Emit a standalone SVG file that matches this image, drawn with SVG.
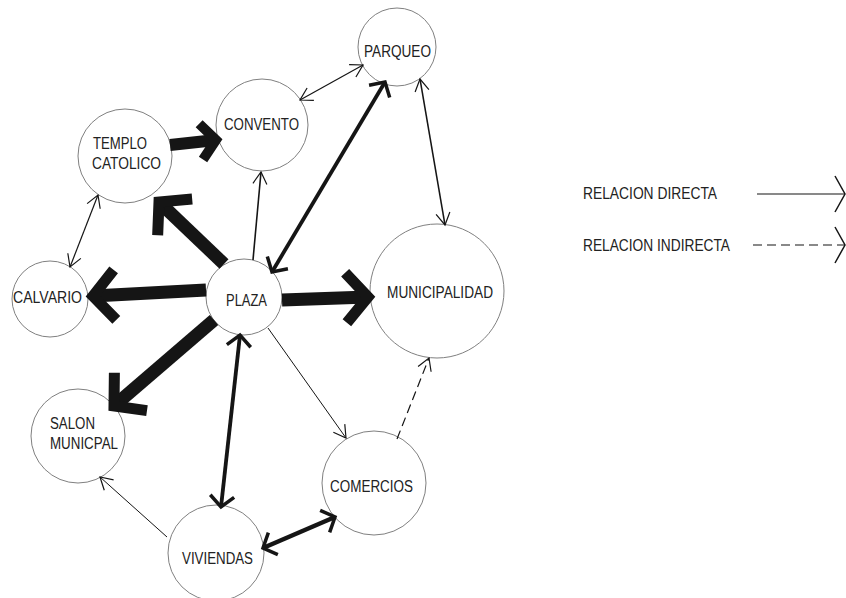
<svg xmlns="http://www.w3.org/2000/svg" width="846" height="598" viewBox="0 0 846 598">
<style>
.node{fill:#fff;stroke:#808080;stroke-width:1}
.lbl{font-family:"Liberation Sans",Arial,sans-serif;font-size:16px;fill:#222}
.c{fill:none;stroke:#151515;stroke-linecap:butt}
.thin{stroke-width:1.2}
.med{stroke-width:3.8}
.thick{stroke-width:13}
.dash{stroke-dasharray:9 5}
.ah{fill:none;stroke:#151515;stroke-linejoin:miter;stroke-linecap:butt}
</style>
<defs>
<marker id="mThin" markerUnits="userSpaceOnUse" orient="auto-start-reverse" overflow="visible" markerWidth="1" markerHeight="1" refX="0" refY="0">
<path class="ah" stroke-width="1.2" d="M-12,-7 L0,0 L-12,7"/>
</marker>
<marker id="mMed" markerUnits="userSpaceOnUse" orient="auto-start-reverse" overflow="visible" markerWidth="1" markerHeight="1" refX="0" refY="0">
<path class="ah" stroke-width="3.5" d="M-11,-12 L0,0 L-11,12"/>
</marker>
<marker id="mThick" markerUnits="userSpaceOnUse" orient="auto-start-reverse" overflow="visible" markerWidth="1" markerHeight="1" refX="0" refY="0">
<path class="ah" stroke-width="11" d="M-22,-25 L0,0 L-22,25"/>
</marker>
<marker id="mThickS" markerUnits="userSpaceOnUse" orient="auto-start-reverse" overflow="visible" markerWidth="1" markerHeight="1" refX="0" refY="0">
<path class="ah" stroke-width="10" d="M-15,-18 L0,0 L-15,18"/>
</marker>
<marker id="mLeg" markerUnits="userSpaceOnUse" orient="auto" overflow="visible" markerWidth="1" markerHeight="1" refX="0" refY="0">
<path class="ah" stroke-width="1.5" d="M-10,-18 L0,0 L-10,18"/>
</marker>
</defs>

<g id="nodes">
<g id="parqueo"><circle class="node" cx="397" cy="47" r="39"/><text class="lbl" x="364" y="57" textLength="67" lengthAdjust="spacingAndGlyphs">PARQUEO</text></g>
<g id="convento"><circle class="node" cx="262" cy="125" r="46"/><text class="lbl" x="224" y="130" textLength="75" lengthAdjust="spacingAndGlyphs">CONVENTO</text></g>
<g id="templo"><circle class="node" cx="125" cy="156" r="47"/><text class="lbl" x="93" y="149" textLength="54" lengthAdjust="spacingAndGlyphs">TEMPLO</text><text class="lbl" x="92" y="169" textLength="69" lengthAdjust="spacingAndGlyphs">CATOLICO</text></g>
<g id="calvario"><circle class="node" cx="50" cy="299" r="38"/><text class="lbl" x="13" y="303" textLength="69" lengthAdjust="spacingAndGlyphs">CALVARIO</text></g>
<g id="plaza"><circle class="node" cx="244" cy="297" r="38"/><text class="lbl" x="226" y="306" textLength="41" lengthAdjust="spacingAndGlyphs">PLAZA</text></g>
<g id="municipalidad"><circle class="node" cx="437" cy="291" r="67"/><text class="lbl" x="387" y="298" textLength="106" lengthAdjust="spacingAndGlyphs">MUNICIPALIDAD</text></g>
<g id="salon"><circle class="node" cx="78" cy="436" r="47"/><text class="lbl" x="50" y="429" textLength="45" lengthAdjust="spacingAndGlyphs">SALON</text><text class="lbl" x="50" y="449" textLength="68" lengthAdjust="spacingAndGlyphs">MUNICPAL</text></g>
<g id="comercios"><circle class="node" cx="374" cy="483" r="52"/><text class="lbl" x="330" y="492" textLength="83" lengthAdjust="spacingAndGlyphs">COMERCIOS</text></g>
<g id="viviendas"><circle class="node" cx="216" cy="553" r="48"/><text class="lbl" x="182" y="564" textLength="71" lengthAdjust="spacingAndGlyphs">VIVIENDAS</text></g>
</g>

<g id="connectors">
<line class="c" stroke-width="12" x1="170" y1="145" x2="216" y2="140" marker-end="url(#mThickS)"/>
<line class="c thick" x1="224" y1="264" x2="159" y2="202" marker-end="url(#mThick)"/>
<line class="c thick" x1="206" y1="290" x2="93" y2="296" marker-end="url(#mThick)"/>
<line class="c thick" x1="282" y1="300" x2="368" y2="297" marker-end="url(#mThick)"/>
<line class="c thick" x1="214" y1="320" x2="114" y2="406" marker-end="url(#mThick)"/>
<line class="c med" x1="272" y1="272" x2="385" y2="82" marker-start="url(#mMed)" marker-end="url(#mMed)"/>
<line class="c" stroke-width="1.6" x1="253" y1="260" x2="261" y2="172" marker-end="url(#mThin)"/>
<line class="c thin" x1="300" y1="100" x2="363" y2="65" marker-start="url(#mThin)" marker-end="url(#mThin)"/>
<line class="c thin" x1="98" y1="195" x2="70" y2="267" marker-start="url(#mThin)" marker-end="url(#mThin)"/>
<line class="c" stroke-width="1.5" x1="420" y1="79" x2="445" y2="225" marker-start="url(#mThin)" marker-end="url(#mThin)"/>
<line class="c" stroke-width="1" x1="268" y1="328" x2="346" y2="438" marker-end="url(#mThin)"/>
<line class="c thin dash" x1="397" y1="439" x2="429" y2="358" marker-end="url(#mThin)"/>
<line class="c med" x1="240" y1="335" x2="221" y2="507" marker-start="url(#mMed)" marker-end="url(#mMed)"/>
<line class="c" stroke-width="4.5" x1="263" y1="548" x2="335" y2="517" marker-start="url(#mMed)" marker-end="url(#mMed)"/>
<line class="c" stroke-width="1" x1="167" y1="537" x2="100" y2="477" marker-end="url(#mThin)"/>
</g>

<g id="legend">
<text class="lbl" x="583" y="199" textLength="134" lengthAdjust="spacingAndGlyphs">RELACION DIRECTA</text>
<line class="c" stroke-width="1.2" x1="757" y1="194" x2="845" y2="194" marker-end="url(#mLeg)"/>
<text class="lbl" x="583" y="251" textLength="147" lengthAdjust="spacingAndGlyphs">RELACION INDIRECTA</text>
<line class="c dash" stroke-width="1.2" x1="753" y1="245" x2="845" y2="245" marker-end="url(#mLeg)"/>
</g>
</svg>
